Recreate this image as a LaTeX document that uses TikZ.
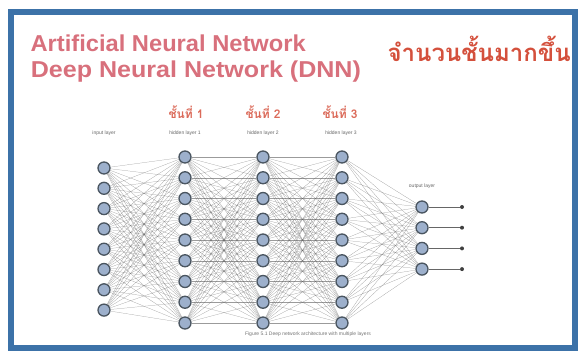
\documentclass[tikz,border=0pt]{standalone}
\usepackage{fontspec}
\setmainfont{Liberation Sans}
\newfontfamily\thaifont[Script=Thai]{Loma}
\usetikzlibrary{backgrounds}
\definecolor{frameblue}{HTML}{3C72A8}
\definecolor{titlepink}{HTML}{D8707C}
\definecolor{thaired}{HTML}{D4503C}
\definecolor{neuronfill}{HTML}{9DB0CC}
\definecolor{neurondraw}{HTML}{4A5560}
\tikzset{
  neuron/.style={circle, minimum size=12pt, inner sep=0pt, fill=neuronfill, draw=neurondraw, line width=1.3pt},
  link/.style={draw=black!65, line width=0.22pt, opacity=0.6},
  outlink/.style={draw=black!60, line width=0.6pt},
  enddot/.style={circle, minimum size=4pt, inner sep=0pt, fill=black!75},
  layerlabel/.style={font=\fontsize{5}{6}\selectfont, text=black!60},
  ranklabel/.style={font=\thaifont\bfseries\fontsize{12}{14}\selectfont, text=thaired!85},
  titletext/.style={font=\bfseries\fontsize{23}{26}\selectfont, text=titlepink, anchor=west}
}
\begin{document}
\begin{tikzpicture}[x=1pt,y=-1pt]
\useasboundingbox (0,0) rectangle (578,353);
\draw[frameblue, line width=6pt] (11,12) rectangle (575,348);
% titles
\node[titletext, xscale=1.03] (t1) at (27,43) {Artificial Neural Network};
\node[titletext, xscale=1.09] (t2) at (27,72) {Deep Neural Network (DNN)};
\node[font=\thaifont\bfseries\fontsize{24}{26}\selectfont, text=thaired, anchor=west] (t3) at (384,49) {จำนวนชั้นมากขึ้น};
% rank labels
\node[ranklabel] (r1) at (186,112) {ชั้นที่ 1};
\node[ranklabel] (r2) at (263,112) {ชั้นที่ 2};
\node[ranklabel] (r3) at (340,112) {ชั้นที่ 3};
% layer labels
\node[layerlabel] (l0) at (104,133) {input layer};
\node[layerlabel] (l1) at (185,133) {hidden layer 1};
\node[layerlabel] (l2) at (263,133) {hidden layer 2};
\node[layerlabel] (l3) at (341,133) {hidden layer 3};
\node[layerlabel] (l4) at (422,186) {output layer};
% neurons
\foreach \k in {1,...,8} { \node[neuron] (i\k) at (104,{168+(\k-1)*20.3}) {}; }
\foreach \k in {1,...,9} {
  \node[neuron] (a\k) at (185,{157+(\k-1)*20.75}) {};
  \node[neuron] (b\k) at (263,{157+(\k-1)*20.75}) {};
  \node[neuron] (c\k) at (342,{157+(\k-1)*20.75}) {};
}
\foreach \k in {1,...,4} {
  \node[neuron] (o\k) at (422,{207+(\k-1)*20.7}) {};
  \node[enddot] (e\k) at (462,{207+(\k-1)*20.7}) {};
  \draw[outlink] (o\k) -- (e\k);
}
\begin{pgfonlayer}{background}
\foreach \p in {1,...,8} { \foreach \q in {1,...,9} { \draw[link] (i\p) -- (a\q); } }
\foreach \p in {1,...,9} { \foreach \q in {1,...,9} { \draw[link] (a\p) -- (b\q); \draw[link] (b\p) -- (c\q); } }
\foreach \p in {1,...,9} { \foreach \q in {1,...,4} { \draw[link] (c\p) -- (o\q); } }
\end{pgfonlayer}
% caption
\node[layerlabel, text=black!55] (cap) at (308,334) {Figure 5.1 Deep network architecture with multiple layers};
\end{tikzpicture}
\end{document}
